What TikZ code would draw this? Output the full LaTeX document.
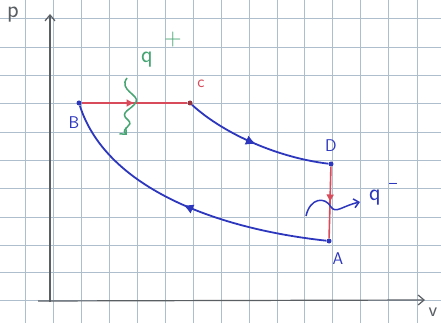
\documentclass[tikz,border=0pt]{standalone}
\usetikzlibrary{arrows.meta,decorations.markings,decorations.pathmorphing}
\definecolor{gridc}{RGB}{175,190,205}
\definecolor{axisc}{RGB}{90,95,100}
\definecolor{penblue}{RGB}{45,55,190}
\definecolor{penred}{RGB}{215,75,90}
\definecolor{pengreen}{RGB}{70,165,115}
\tikzset{
  gridline/.style={draw=gridc, line width=0.9pt},
  axisline/.style={draw=axisc, line width=1.2pt},
  blueproc/.style={draw=penblue, line width=1.8pt,
    postaction={decorate},
    decoration={markings, mark=at position 0.5 with {\arrow{Latex[length=10pt,width=10pt]}}}},
  redproc/.style={draw=penred, line width=1.6pt,
    postaction={decorate},
    decoration={markings, mark=at position 0.5 with {\arrow{Latex[length=8pt,width=8pt]}}}},
  statept/.style={circle, fill=penblue, inner sep=0pt, minimum size=5pt},
  bluelabel/.style={text=penblue, font=\sffamily\fontsize{17}{17}\selectfont},
  greenlabel/.style={text=pengreen, font=\sffamily\fontsize{24}{24}\selectfont},
}
\begin{document}
\begin{tikzpicture}[x=1pt,y=-1pt]
\useasboundingbox (0,0) rectangle (441,323);
\fill[white] (0,0) rectangle (441,323);
% grid
\foreach \gx in {25,53,81,109,137,165,193,221,249,277,304,332,360,388,417}
  \draw[gridline] (\gx,0) -- (\gx,323);
\foreach \gy in {18,47,75,103,132,160,188,217,245,272,300}
  \draw[gridline] (0,\gy) -- (441,\gy);
% axes
\coordinate (o) at (50,302);
\coordinate (ptop) at (50,14);
\coordinate (vend) at (425,300);
\coordinate (hstart) at (38,301);
\draw[axisline, -{Straight Barb[length=6pt,width=10pt]}] (o) -- (ptop);
\draw[axisline, -{Straight Barb[length=6pt,width=10pt]}] (hstart) -- (vend);
\node[text=axisc, font=\sffamily\fontsize{24}{24}\selectfont] (plab) at (13,15) {p};
\node[text=axisc, font=\sffamily\fontsize{20}{20}\selectfont] (vlab) at (433,312) {v};
% states
\node[statept] (B) at (79,103) {};
\node[statept, fill=penred!70!black] (C) at (190,103) {};
\node[statept] (D) at (331,164) {};
\node[statept] (A) at (329,241) {};
\node[bluelabel] (Bl) at (74,123) {B};
\node[text=penred, font=\sffamily\fontsize{17}{17}\selectfont] (Cl) at (201,84) {c};
\node[bluelabel] (Dl) at (331,146) {D};
\node[bluelabel] (Al) at (338,259) {A};
% processes
\draw[redproc] (B) -- (C);
\draw[blueproc] (C) .. controls (225,135) and (280,158) .. (D);
\draw[redproc] (D) -- (A);
\draw[blueproc] (A) .. controls (210,228) and (105,185) .. (B);
% heat in
\node[greenlabel] (qin) at (147,60) {q};
\node[greenlabel] (plus) at (173,40) {+};
\coordinate (gs) at (127,78);
\coordinate (ge) at (127,135);
\draw[draw=pengreen, line width=1.5pt, -{Straight Barb[length=5pt,width=9pt]}]
  (gs) .. controls (118,90) and (140,95) .. (136,102)
       .. controls (132,110) and (118,112) .. (128,120)
       .. controls (135,126) and (120,128) .. (ge);
% heat out
\coordinate (bs) at (306,216);
\coordinate (be) at (360,202);
\draw[draw=penblue, line width=1.5pt, -{Straight Barb[length=5pt,width=9pt]}]
  (bs) .. controls (310,198) and (325,196) .. (331,207)
       .. controls (336,214) and (342,206) .. (be);
\node[text=penblue, font=\sffamily\fontsize{24}{24}\selectfont] (qout) at (375,198) {q};
\node[text=penblue, font=\sffamily\fontsize{17}{17}\selectfont] (minus) at (393,186) {--};
\end{tikzpicture}
\end{document}
